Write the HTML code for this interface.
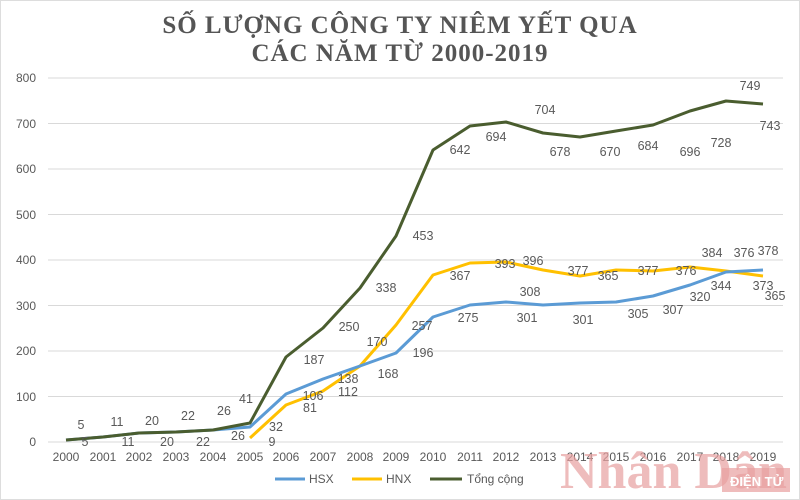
<!DOCTYPE html>
<html><head><meta charset="utf-8"><style>
body{margin:0;background:#fff;}
svg{display:block;font-family:"Liberation Sans",sans-serif;}
.t{font-family:"Liberation Serif",serif;font-weight:bold;font-size:25px;fill:#555;letter-spacing:1px}
.ax{font-size:12px;fill:#595959}
.l{font-size:12.5px;fill:#595959}
</style></head><body>
<svg width="800" height="500" viewBox="0 0 800 500">
<rect x="0.5" y="0.5" width="799" height="499" fill="#fff" stroke="#ddd"/>
<text class="t" x="400" y="33" text-anchor="middle">SỐ LƯỢNG CÔNG TY NIÊM YẾT QUA</text>
<text class="t" x="400" y="61" text-anchor="middle">CÁC NĂM TỪ 2000-2019</text>
<g stroke="#d9d9d9" stroke-width="1">
<line x1="48" x2="783" y1="78" y2="78"/><line x1="48" x2="783" y1="123.5" y2="123.5"/>
<line x1="48" x2="783" y1="169" y2="169"/><line x1="48" x2="783" y1="214.5" y2="214.5"/>
<line x1="48" x2="783" y1="260" y2="260"/><line x1="48" x2="783" y1="305.5" y2="305.5"/>
<line x1="48" x2="783" y1="351" y2="351"/><line x1="48" x2="783" y1="396.5" y2="396.5"/>
<line x1="48" x2="783" y1="442" y2="442"/>
</g>
<g class="ax" text-anchor="end">
<text x="36" y="82">800</text><text x="36" y="128">700</text><text x="36" y="173">600</text>
<text x="36" y="219">500</text><text x="36" y="264">400</text><text x="36" y="310">300</text>
<text x="36" y="355">200</text><text x="36" y="401">100</text><text x="36" y="446">0</text>
</g>
<g class="ax" text-anchor="middle">
<text x="66" y="461">2000</text><text x="103" y="461">2001</text><text x="139" y="461">2002</text>
<text x="176" y="461">2003</text><text x="213" y="461">2004</text><text x="250" y="461">2005</text>
<text x="286" y="461">2006</text><text x="323" y="461">2007</text><text x="360" y="461">2008</text>
<text x="396" y="461">2009</text><text x="433" y="461">2010</text><text x="470" y="461">2011</text>
<text x="506" y="461">2012</text><text x="543" y="461">2013</text><text x="580" y="461">2014</text>
<text x="616" y="461">2015</text><text x="653" y="461">2016</text><text x="690" y="461">2017</text>
<text x="726" y="461">2018</text><text x="763" y="461">2019</text>
</g>
<g fill="none" stroke-width="3" stroke-linejoin="round">
<polyline stroke="#ffc000" points="250,438 286,405 323,391 360,366 396,325 433,275 470,263 506,262 543,270 580,276 616,270 653,271 690,267 726,271 763,276"/>
<polyline stroke="#5b9bd5" points="66,440 103,437 139,433 176,432 213,430 250,427 286,394 323,379 360,366 396,353 433,317 470,305 506,302 543,305 580,303 616,302 653,296 690,285 726,272 763,270"/>
<polyline stroke="#4a5d2f" points="66,440 103,437 139,433 176,432 213,430 250,423 286,357 323,328 360,288 396,236 433,150 470,126 506,122 543,133 580,137 616,131 653,125 690,111 726,101 763,104"/>
</g>
<g class="l" text-anchor="middle">
<text x="81" y="429">5</text><text x="117" y="426">11</text><text x="152" y="425">20</text><text x="188" y="420">22</text><text x="224" y="415">26</text><text x="246" y="403">41</text>
<text x="85" y="446">5</text><text x="128" y="446">11</text><text x="167" y="446">20</text><text x="203" y="446">22</text><text x="238" y="440">26</text>
<text x="276" y="431">32</text><text x="272" y="446">9</text>
<text x="313" y="400">106</text><text x="310" y="412">81</text>
<text x="348" y="383">138</text><text x="348" y="396">112</text>
<text x="377" y="346">170</text><text x="388" y="378">168</text>
<text x="314" y="364">187</text><text x="349" y="331">250</text><text x="386" y="292">338</text><text x="423" y="240">453</text>
<text x="422" y="330">257</text><text x="423" y="357">196</text>
<text x="460" y="154">642</text><text x="496" y="141">694</text><text x="545" y="114">704</text>
<text x="560" y="156">678</text><text x="610" y="156">670</text><text x="648" y="150">684</text><text x="690" y="156">696</text>
<text x="721" y="147">728</text><text x="750" y="90">749</text><text x="770" y="130">743</text>
<text x="460" y="280">367</text><text x="505" y="268">393</text><text x="533" y="265">396</text>
<text x="578" y="275">377</text><text x="608" y="280">365</text><text x="648" y="275">377</text><text x="686" y="275">376</text>
<text x="712" y="257">384</text><text x="744" y="257">376</text><text x="763" y="290">373</text><text x="775" y="300">365</text>
<text x="468" y="322">275</text><text x="527" y="322">301</text><text x="530" y="296">308</text>
<text x="583" y="324">301</text><text x="638" y="318">305</text><text x="673" y="314">307</text>
<text x="700" y="301">320</text><text x="721" y="290">344</text><text x="768" y="255">378</text>
</g>
<g stroke="#5b9bd5" stroke-width="3"><line x1="275" x2="305" y1="479" y2="479"/></g>
<g stroke="#ffc000" stroke-width="3"><line x1="352" x2="382" y1="479" y2="479"/></g>
<g stroke="#4a5d2f" stroke-width="3"><line x1="430" x2="462" y1="479" y2="479"/></g>
<g class="ax"><text x="309" y="483">HSX</text><text x="386" y="483">HNX</text><text x="467" y="483">Tổng cộng</text></g>
<text x="560" y="488" font-family="Liberation Serif,serif" font-weight="bold" font-size="52" fill="#e8a0a0" opacity="0.7">Nhân Dân</text>
<rect x="722" y="468" width="68" height="24" fill="#e8a0a0" opacity="0.7"/>
<text x="730" y="486" font-size="13" fill="#fff" font-weight="bold">ĐIỆN TỬ</text>
</svg>
</body></html>
